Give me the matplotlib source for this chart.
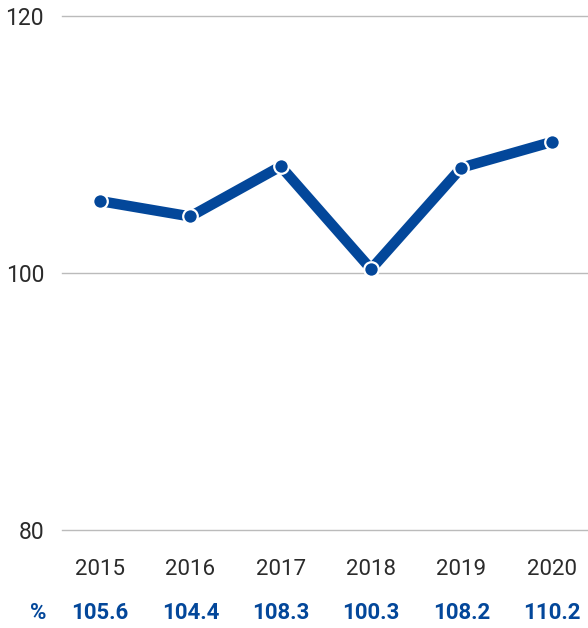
import numpy as np
import matplotlib.pyplot as plt
from matplotlib.transforms import blended_transform_factory

plt.rcParams['font.family'] = ['Roboto', 'DejaVu Sans']

# Data
years = ['2015', '2016', '2017', '2018', '2019', '2020']
values = [105.6, 104.4, 108.3, 100.3, 108.2, 110.2]
y_ticks = [80, 100, 120]

BLUE = '#03479a'
GREY_TEXT = '#2b2b2b'

fig = plt.figure(figsize=(5.88, 6.28), dpi=100)
ax = fig.add_axes([62 / 588, 1 - 530 / 628, 1 - 62 / 588, (530 - 16) / 628])

x = np.arange(len(years))
ax.plot(x, values, color=BLUE, lw=7.5, solid_capstyle='butt', zorder=3)
ax.plot(x, values, 'o', color=BLUE, ms=10.5, mec='white', mew=1.6, zorder=4)

ax.set_ylim(80, 120)
ax.set_xlim(-0.42, 5.4)
ax.set_yticks(y_ticks)
ax.set_yticklabels([str(t) for t in y_ticks], fontsize=16.5, color=GREY_TEXT)
ax.set_xticks(x)
ax.set_xticklabels(years, fontsize=16, color=GREY_TEXT)
ax.tick_params(axis='y', length=0, pad=13)
ax.tick_params(axis='x', length=0, pad=21)

# gridlines (unclipped so the edge lines show fully)
for t in y_ticks:
    ax.axhline(t, color='#bbbbbb', lw=1, clip_on=False, zorder=1)
for s in ax.spines.values():
    s.set_visible(False)

# Values row
tr = blended_transform_factory(ax.transData, fig.transFigure)
for xi, v in zip(x, values):
    ax.text(xi, 1 - 613 / 628, f'{v:.1f}', transform=tr, ha='center', va='center',
            fontsize=16, fontweight='bold', color=BLUE)
fig.text(38 / 588, 1 - 613 / 628, '%', ha='center', va='center',
         fontsize=16, fontweight='bold', color=BLUE)

fig.savefig('out.png', dpi=100)
